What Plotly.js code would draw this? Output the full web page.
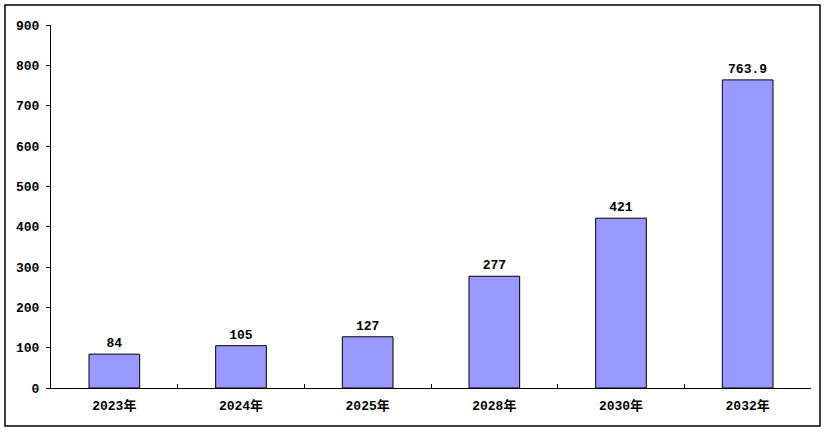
<!DOCTYPE html>
<html>
<head>
<meta charset="utf-8">
<script src="https://cdn.plot.ly/plotly-3.0.1.min.js"></script>
<style>
html,body{margin:0;padding:0;background:#fff;}
#chart{width:827px;height:432px;}
</style>
</head>
<body>
<div id="chart"></div>
<script>
const categories = ["2023年", "2024年", "2025年", "2028年", "2030年", "2032年"];
const values = [84, 105, 127, 277, 421, 763.9];
const valueLabels = ["84", "105", "127", "277", "421", "763.9"];
const yTicks = [0, 100, 200, 300, 400, 500, 600, 700, 800, 900];

const FONT = '"Liberation Mono", "Noto Sans CJK SC", monospace';

const trace = {
  type: 'bar',
  x: categories,
  y: values,
  text: valueLabels,
  textposition: 'outside',
  textfont: {family: FONT, size: 13, color: '#000', weight: 'bold'},
  cliponaxis: false,
  width: 0.4,
  marker: {color: '#9999FF', line: {color: '#000', width: 1}},
  hoverinfo: 'none'
};

const L = 51, R = 811, T = 25, B = 388, W = 827, H = 432;
const pw = R - L, ph = B - T;

const layout = {
  width: W, height: H,
  margin: {l: L, r: W - R, t: T, b: H - B, pad: 0},
  paper_bgcolor: '#fff',
  plot_bgcolor: '#fff',
  showlegend: false,
  font: {family: FONT, size: 13, color: '#000', weight: 'bold'},
  xaxis: {
    type: 'category',
    showline: true, linecolor: '#000', linewidth: 1,
    ticks: 'inside', tickson: 'boundaries', ticklen: 4, tickcolor: '#000', tickwidth: 1,
    ticklabelstandoff: 5,
    showgrid: false, zeroline: false,
    tickfont: {family: FONT, size: 13, color: '#000', weight: 'bold'},
    fixedrange: true
  },
  yaxis: {
    range: [0, 900],
    tickmode: 'array', tickvals: yTicks, ticktext: yTicks.map(String),
    showline: true, linecolor: '#000', linewidth: 1,
    ticks: 'outside', ticklen: 4, tickcolor: '#000', tickwidth: 1,
    ticklabelstandoff: 4,
    showgrid: false, zeroline: false,
    tickfont: {family: FONT, size: 13, color: '#000', weight: 'bold'},
    fixedrange: true
  },
  shapes: [{
    type: 'rect', xref: 'paper', yref: 'paper',
    x0: (5 - L) / pw, x1: (820 - L) / pw,
    y0: (B - 426) / ph, y1: (B - 5) / ph,
    line: {color: '#000', width: 1.5},
    fillcolor: 'rgba(0,0,0,0)'
  }]
};

Plotly.newPlot('chart', [trace], layout, {displayModeBar: false, staticPlot: true});
</script>
</body>
</html>
